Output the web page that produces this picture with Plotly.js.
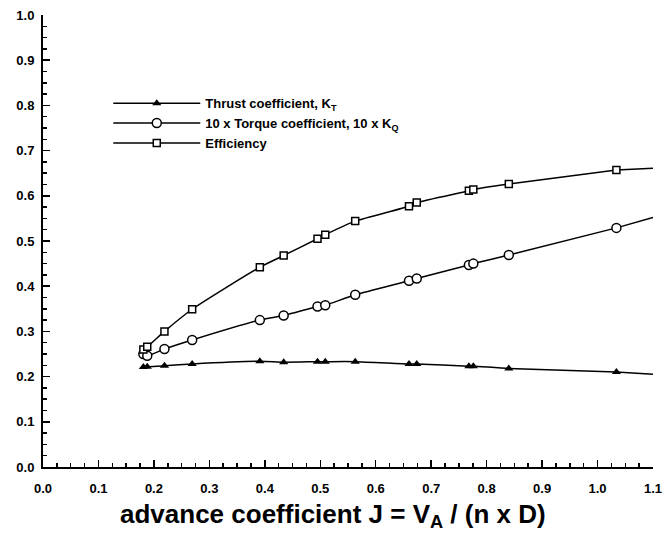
<!DOCTYPE html>
<html>
<head>
<meta charset="utf-8">
<script src="https://cdn.plot.ly/plotly-3.0.1.min.js"></script>
<style>html,body{margin:0;padding:0;background:#fff;}#chart{width:668px;height:536px;}</style>
</head>
<body>
<div id="chart"></div>
<script>
// advance coefficient J at measured points
var J = [0.181, 0.188, 0.219, 0.269, 0.391, 0.434, 0.495, 0.509, 0.563, 0.660, 0.674, 0.768, 0.776, 0.840, 1.034];
var KT = [0.221, 0.222, 0.224, 0.228, 0.234, 0.232, 0.233, 0.233, 0.233, 0.228, 0.228, 0.223, 0.223, 0.218, 0.210];
var KQ10 = [0.250, 0.246, 0.261, 0.281, 0.325, 0.335, 0.355, 0.358, 0.381, 0.412, 0.417, 0.447, 0.450, 0.469, 0.529];
var ETA = [0.260, 0.266, 0.300, 0.349, 0.442, 0.468, 0.505, 0.514, 0.544, 0.577, 0.585, 0.611, 0.614, 0.626, 0.657];
// fitted-curve end values at the right edge of the axis
var J_END = 1.1;
var KT_END = 0.205;
var KQ10_END = 0.552;
var ETA_END = 0.661;
var NAMES = ['Thrust coefficient, K<sub>T</sub>', '10 x Torque coefficient, 10 x K<sub>Q</sub>', 'Efficiency'];
var XTITLE = 'advance coefficient J = V<sub>A</sub> / (n x D)';

var last = J.length - 1;
function ext(vals, endv) {
  return {x: [J[last], J_END], y: [vals[last], endv], mode: 'lines', type: 'scatter',
          line: {color: '#000', width: 1.5}, showlegend: false, hoverinfo: 'skip'};
}
var traces = [
  ext(KT, KT_END), ext(KQ10, KQ10_END), ext(ETA, ETA_END),
  {x: J, y: KT, name: NAMES[0], mode: 'lines+markers', type: 'scatter',
   line: {color: '#000', width: 1.5, shape: 'spline', smoothing: 0.6},
   marker: {symbol: 'triangle-up', size: 8, color: '#000'}},
  {x: J, y: KQ10, name: NAMES[1], mode: 'lines+markers', type: 'scatter',
   line: {color: '#000', width: 1.5, shape: 'spline', smoothing: 0.6},
   marker: {symbol: 'circle', size: 9, color: '#fff', line: {color: '#000', width: 1.5}}},
  {x: J, y: ETA, name: NAMES[2], mode: 'lines+markers', type: 'scatter',
   line: {color: '#000', width: 1.5, shape: 'spline', smoothing: 0.6},
   marker: {symbol: 'square', size: 7, color: '#fff', line: {color: '#000', width: 1.5}}}
];

var FONT = 'Liberation Sans, Arial, sans-serif';
var tickfont = {family: FONT, size: 13, color: '#000', weight: 'bold'};
var layout = {
  width: 668, height: 536,
  margin: {l: 43, r: 15, t: 15, b: 69},
  paper_bgcolor: '#fff', plot_bgcolor: '#fff',
  showlegend: true,
  legend: {x: 0.107, y: 0.838, xanchor: 'left', yanchor: 'top', bgcolor: 'rgba(0,0,0,0)',
           font: {family: FONT, size: 13, color: '#000', weight: 'bold'},
           itemwidth: 87, tracegroupgap: 0},
  annotations: [{text: XTITLE, xref: 'paper', yref: 'paper', x: 0.476, y: 0, yshift: -48,
                 xanchor: 'center', yanchor: 'middle', showarrow: false,
                 font: {family: FONT, size: 26, color: '#000', weight: 'bold'}}],
  xaxis: {
    range: [0, 1.1], dtick: 0.1, tick0: 0, tickformat: '.1f',
    showgrid: false, zeroline: false, showline: true, linecolor: '#000', linewidth: 2,
    ticks: 'inside', ticklen: 7, tickwidth: 1.5, tickcolor: '#000',
    minor: {dtick: 0.025, ticks: 'inside', ticklen: 4, tickwidth: 1.5, tickcolor: '#000', showgrid: false},
    tickfont: tickfont, ticklabelstandoff: 8
  },
  yaxis: {
    range: [0, 1], dtick: 0.1, tick0: 0, tickformat: '.1f',
    showgrid: false, zeroline: false, showline: true, linecolor: '#000', linewidth: 2,
    ticks: 'inside', ticklen: 7, tickwidth: 1.5, tickcolor: '#000',
    minor: {dtick: 0.025, ticks: 'inside', ticklen: 4, tickwidth: 1.5, tickcolor: '#000', showgrid: false},
    tickfont: tickfont, ticklabelstandoff: 4
  }
};
Plotly.newPlot('chart', traces, layout, {displayModeBar: false, staticPlot: true});
</script>
</body>
</html>
